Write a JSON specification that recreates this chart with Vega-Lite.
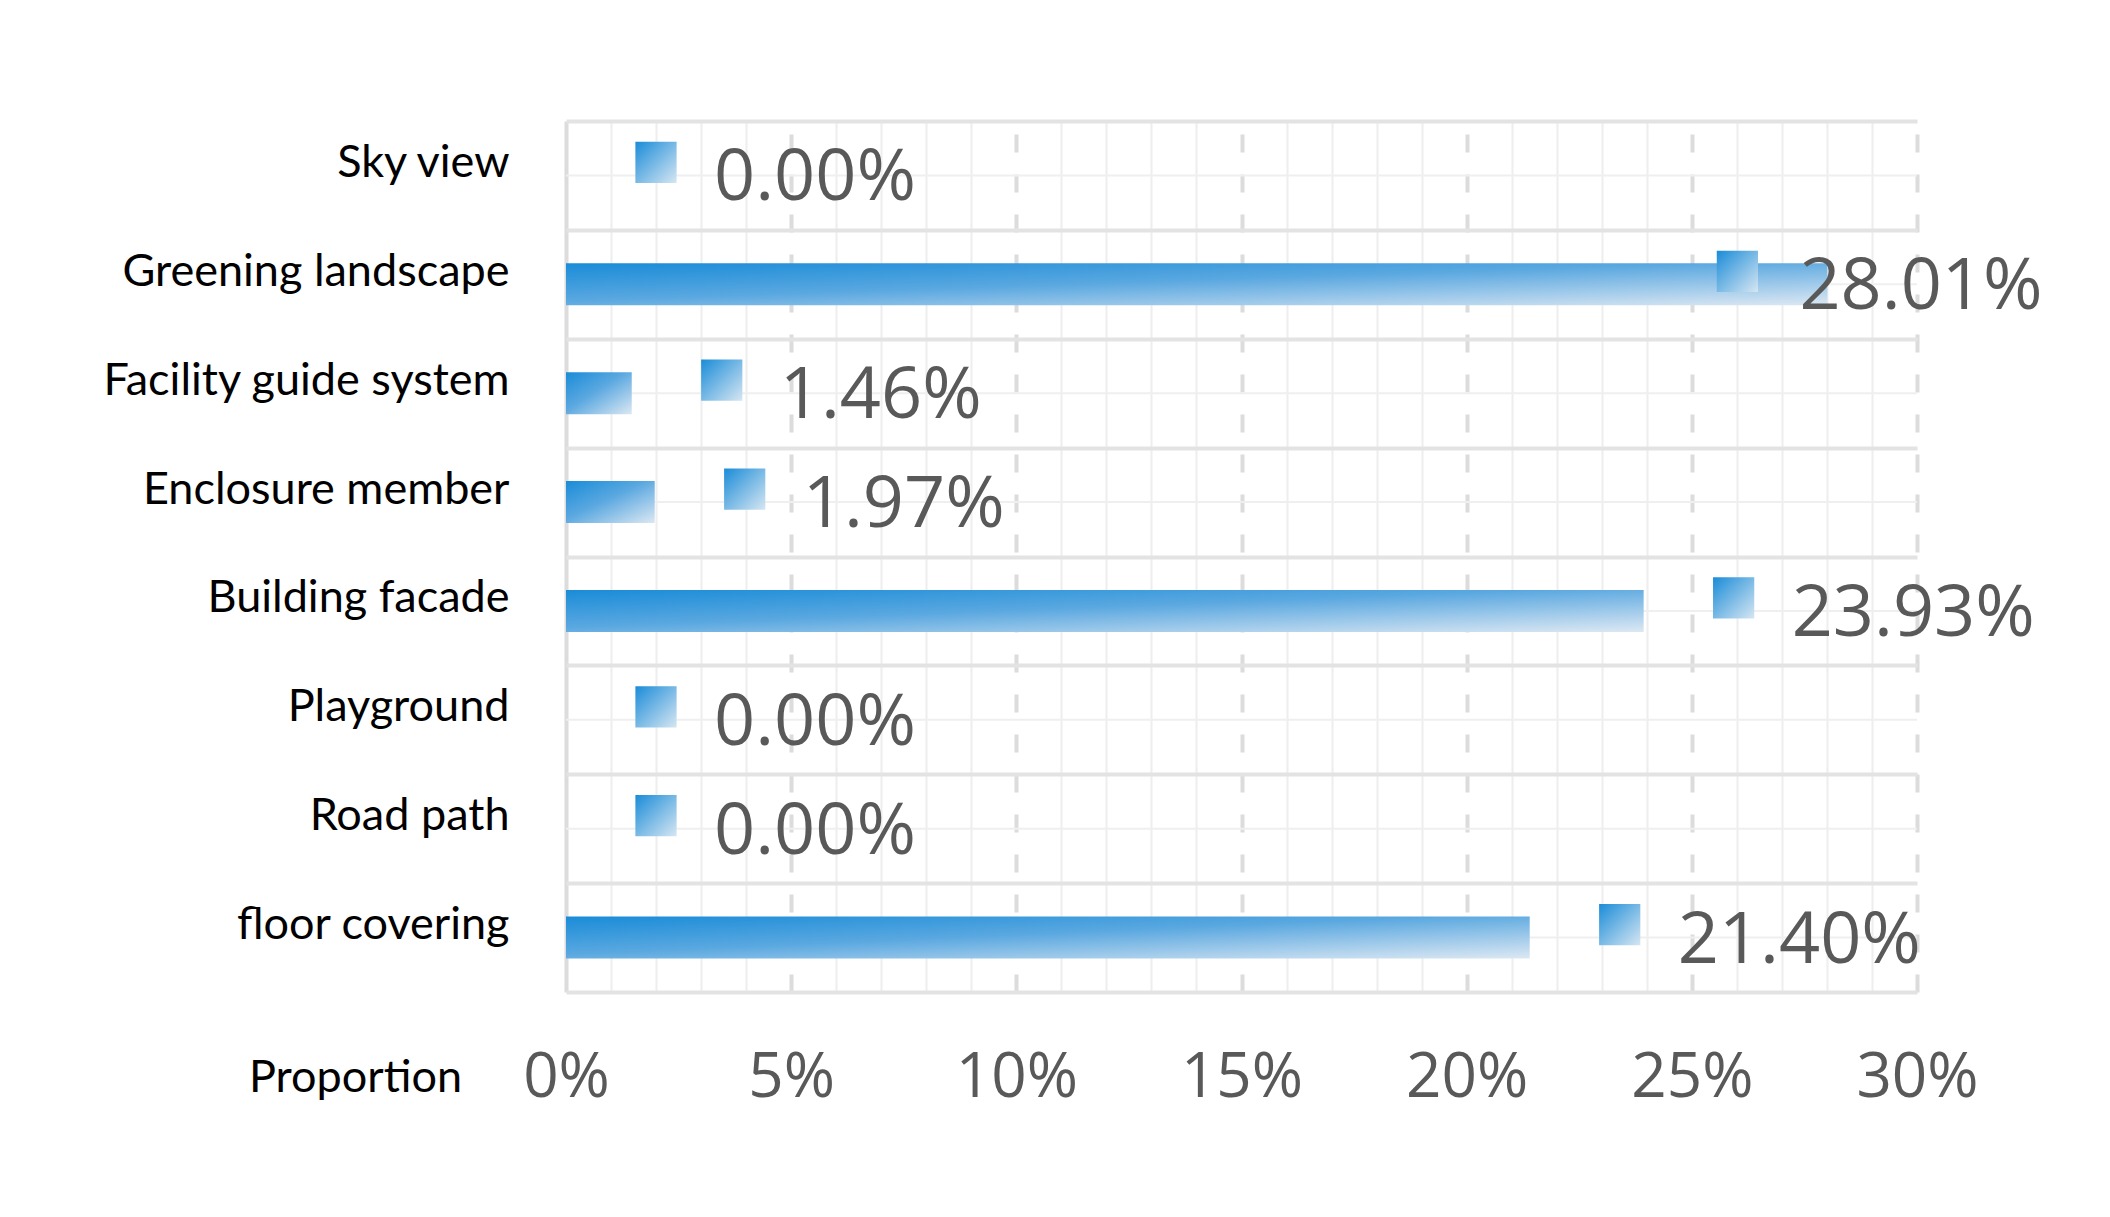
{
  "$schema": "https://vega.github.io/schema/vega-lite/v6.json",
  "width": 1351,
  "height": 871,
  "autosize": {"type": "none"},
  "padding": {"left": 566, "top": 121, "right": 193, "bottom": 225},
  "background": "white",
  "config": {"view": {"stroke": null}},
  "data": {"values": [
    {"category": "Sky view", "value": 0},
    {"category": "Greening landscape", "value": 0.2801},
    {"category": "Facility guide system", "value": 0.0146},
    {"category": "Enclosure member", "value": 0.0197},
    {"category": "Building facade", "value": 0.2393},
    {"category": "Playground", "value": 0},
    {"category": "Road path", "value": 0},
    {"category": "floor covering", "value": 0.214}
  ]},
  "encoding": {
    "y": {
      "field": "category", "type": "nominal", "sort": null,
      "scale": {"paddingInner": 0, "paddingOuter": 0},
      "axis": {
        "title": null, "ticks": false, "domain": false,
        "grid": true, "tickBand": "extent", "gridColor": "#E3E3E3", "gridWidth": 4,
        "labelFont": "Lato", "labelFontSize": 45, "labelColor": "#000000",
        "labelPadding": 57, "labelOffset": -13, "labelLimit": 600
      }
    }
  },
  "layer": [
    {
      "mark": {"type": "rule", "color": "#EFEFEF", "strokeWidth": 2},
      "encoding": {}
    },
    {
      "mark": {
        "type": "bar", "size": 42,
        "color": {"gradient": "linear", "x1": 0, "y1": 0, "x2": 1, "y2": 1,
          "stops": [{"offset": 0, "color": "#1A8CD8"}, {"offset": 0.45, "color": "#5AA8E0"}, {"offset": 1, "color": "#DCE8F3"}]}
      },
      "encoding": {
        "x": {
          "field": "value", "type": "quantitative",
          "scale": {"domain": [0, 0.3], "nice": false},
          "axis": {
            "values": [0, 0.01, 0.02, 0.03, 0.04, 0.05, 0.06, 0.07, 0.08, 0.09, 0.1, 0.11, 0.12, 0.13, 0.14, 0.15, 0.16, 0.17, 0.18, 0.19, 0.2, 0.21, 0.22, 0.23, 0.24, 0.25, 0.26, 0.27, 0.28, 0.29, 0.3],
            "format": ".0%",
            "labelExpr": "round(datum.value*100) % 5 == 0 ? datum.label : ''",
            "ticks": false, "domain": false, "grid": true,
            "gridColor": {"condition": {"test": "round(datum.value*100) % 5 == 0", "value": "#DCDCDC"}, "value": "#EEEEEE"},
            "gridWidth": {"condition": {"test": "round(datum.value*100) % 5 == 0", "value": 4}, "value": 2},
            "gridDash": {"condition": {"test": "round(datum.value*100) % 5 == 0 && datum.value > 0.001", "value": [18, 22]}, "value": []},
            "labelFont": "Open Sans", "labelFontSize": 62, "labelColor": "#595959",
            "labelBaseline": "middle", "labelPadding": 85, "labelFlush": false, "labelOverlap": false,
            "title": "Proportion", "titleFont": "Lato", "titleFontSize": 45, "titleFontWeight": "normal",
            "titleColor": "#000000", "titleX": -211, "titleY": 85, "titleAlign": "center", "titleBaseline": "middle"
          }
        }
      }
    },
    {
      "mark": {
        "type": "square", "size": 1700, "filled": true, "opacity": 1, "yOffset": -13,
        "xOffset": {"expr": "datum.value > 0.27 ? -90 : 90"},
        "color": {"gradient": "linear", "x1": 0, "y1": 0, "x2": 1, "y2": 1,
          "stops": [{"offset": 0, "color": "#1A8CD8"}, {"offset": 1, "color": "#D6E6F2"}]}
      },
      "encoding": {"x": {"field": "value", "type": "quantitative"}}
    },
    {
      "mark": {
        "type": "text", "align": "left", "baseline": "middle",
        "font": "Open Sans", "fontSize": 72, "color": "#595959", "yOffset": 3,
        "xOffset": {"expr": "datum.value > 0.27 ? -28 : 148"}
      },
      "encoding": {
        "x": {"field": "value", "type": "quantitative"},
        "text": {"field": "value", "type": "quantitative", "format": ".2%"}
      }
    }
  ]
}
